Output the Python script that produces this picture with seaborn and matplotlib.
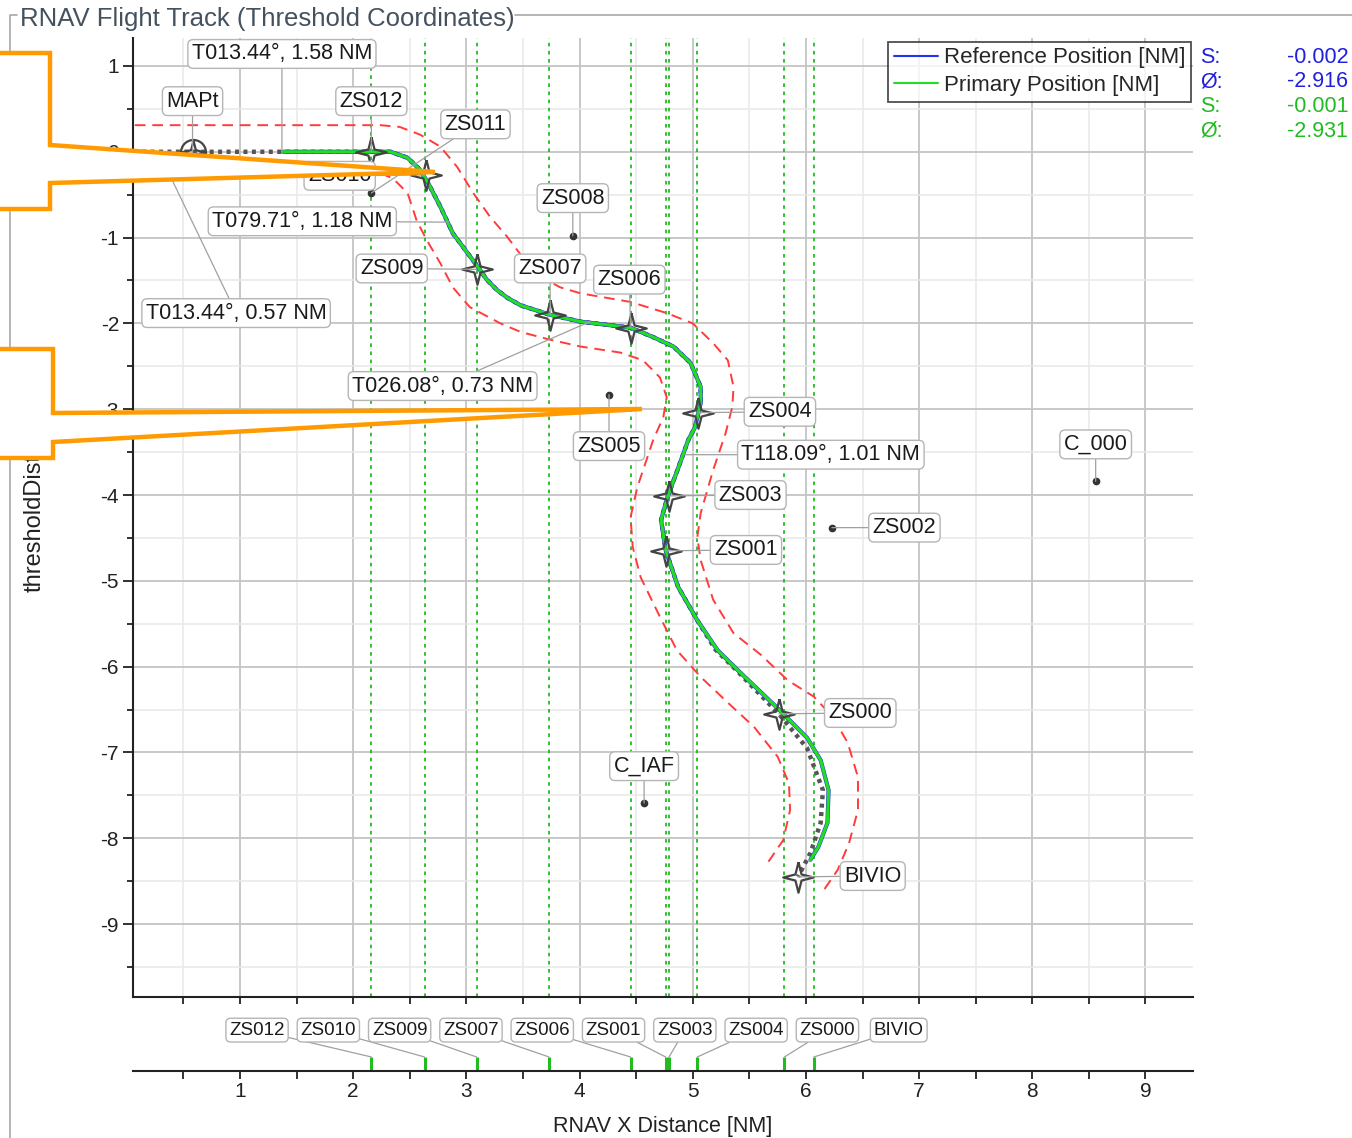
import matplotlib
matplotlib.use("Agg")
import matplotlib.pyplot as plt
from matplotlib.patches import Polygon
from matplotlib.lines import Line2D
from matplotlib.ticker import MultipleLocator
import seaborn as sns

# ---- data (NM, threshold coordinates) ----
track_x = [1.38, 2.16, 2.33, 2.48, 2.59, 2.66, 2.77, 2.88, 3.01, 3.10, 3.18, 3.27, 3.36, 3.48,
           3.74, 4.01, 4.45, 4.65, 4.83, 4.98, 5.07, 5.07, 5.02, 4.96, 4.87, 4.78, 4.72, 4.76,
           4.87, 5.04, 5.22, 5.42, 5.77, 6.01, 6.13, 6.20, 6.19, 6.11, 6.04]
track_y = [0.0, 0.0, 0.0, -0.07, -0.21, -0.36, -0.64, -0.95, -1.18, -1.34, -1.49, -1.61, -1.70, -1.79,
           -1.90, -1.98, -2.05, -2.16, -2.27, -2.46, -2.74, -2.93, -3.21, -3.36, -3.69, -4.01, -4.29, -4.64,
           -5.07, -5.46, -5.81, -6.07, -6.51, -6.83, -7.09, -7.44, -7.82, -8.10, -8.25]

nominal_x = [0.06, 0.58, 2.16, 2.33, 2.48, 2.59, 2.66, 2.77, 2.88, 3.01, 3.10, 3.18, 3.27, 3.36, 3.48,
             3.74, 4.01, 4.45, 4.65, 4.83, 4.98, 5.07, 5.07, 5.02, 4.96, 4.87, 4.78, 4.72, 4.76,
             4.87, 5.04, 5.20, 5.40, 5.76, 6.01, 6.15, 6.13, 6.04, 5.93]
nominal_y = [0.0, 0.0, 0.0, 0.0, -0.07, -0.21, -0.36, -0.64, -0.95, -1.18, -1.34, -1.49, -1.61, -1.70, -1.79,
             -1.90, -1.98, -2.05, -2.16, -2.27, -2.46, -2.74, -2.93, -3.21, -3.36, -3.69, -4.01, -4.29, -4.64,
             -5.07, -5.46, -5.80, -6.06, -6.55, -6.95, -7.44, -7.82, -8.17, -8.45]

outer_x = [0.07, 2.24, 2.41, 2.59, 2.77, 2.92, 3.06, 3.21, 3.36, 3.48, 3.63, 3.83, 4.01, 4.45, 4.77,
           5.00, 5.18, 5.31, 5.36, 5.35, 5.29, 5.18, 5.07, 5.04, 5.07, 5.18, 5.36, 5.60, 5.84, 6.07,
           6.24, 6.37, 6.46, 6.46, 6.38, 6.28, 6.16]
outer_y = [0.31, 0.31, 0.29, 0.20, 0.06, -0.18, -0.48, -0.76, -0.99, -1.20, -1.44, -1.58, -1.65, -1.75, -1.88,
           -2.00, -2.23, -2.43, -2.74, -2.97, -3.28, -3.71, -4.21, -4.49, -4.76, -5.22, -5.61, -5.86, -6.16, -6.35,
           -6.59, -6.89, -7.29, -7.67, -8.06, -8.37, -8.60]

inner_x = [2.24, 2.35, 2.48, 2.56, 2.65, 2.77, 2.88, 3.03, 3.30, 3.48, 3.74, 4.01, 4.36, 4.56, 4.71,
           4.77, 4.74, 4.65, 4.51, 4.45, 4.47, 4.54, 4.71, 4.86, 5.07, 5.31, 5.54, 5.75, 5.85, 5.86,
           5.80, 5.66]
inner_y = [-0.25, -0.31, -0.48, -0.80, -1.03, -1.30, -1.58, -1.81, -2.00, -2.10, -2.19, -2.27, -2.34, -2.43, -2.63,
           -2.86, -3.09, -3.36, -3.91, -4.26, -4.61, -4.96, -5.42, -5.81, -6.12, -6.42, -6.70, -7.05, -7.36, -7.67,
           -8.02, -8.29]

star_names = ["ZS012", "ZS010", "ZS009", "ZS007", "ZS006", "ZS004", "ZS003", "ZS001", "ZS000", "BIVIO"]
star_x = [2.16, 2.64, 3.09, 3.74, 4.45, 5.05, 4.79, 4.76, 5.76, 5.93]
star_y = [0.0, -0.27, -1.37, -1.90, -2.05, -3.04, -4.01, -4.65, -6.55, -8.45]

mapt_x, mapt_y = 0.58, 0.0

dot_names = ["ZS011", "ZS008", "ZS005", "ZS002", "C_000", "C_IAF"]
dot_x = [2.16, 3.94, 4.26, 6.23, 8.56, 4.57]
dot_y = [-0.48, -0.98, -2.83, -4.38, -3.84, -7.59]

leg_texts = ["T013.44°, 1.58 NM", "T079.71°, 1.18 NM", "T013.44°, 0.57 NM",
             "T026.08°, 0.73 NM", "T118.09°, 1.01 NM"]
leg_mid_x = [1.37, 2.84, 0.28, 4.09, 4.93]
leg_mid_y = [0.0, -0.82, 0.0, -1.98, -3.53]

fix_names = ["ZS012", "ZS010", "ZS009", "ZS007", "ZS006", "ZS001", "ZS003", "ZS004", "ZS000", "BIVIO"]
fix_x = [2.16, 2.63, 3.09, 3.73, 4.45, 4.76, 4.79, 5.04, 5.81, 6.07]

stat_keys = ["S:", "Ø:", "S:", "Ø:"]
stat_vals = ["-0.002", "-2.916", "-0.001", "-2.931"]

# ---- label placement (layout only) ----
star_lbl = {"ZS012": (2.16, 0.59), "ZS010": (1.88, -0.28), "ZS009": (2.34, -1.36),
            "ZS007": (3.74, -1.36), "ZS006": (4.44, -1.49), "ZS004": (5.77, -3.03),
            "ZS003": (5.51, -4.0), "ZS001": (5.47, -4.64), "ZS000": (6.48, -6.54),
            "BIVIO": (6.59, -8.44)}
dot_lbl = {"ZS011": (3.08, 0.32), "ZS008": (3.94, -0.54), "ZS005": (4.26, -3.43),
           "ZS002": (6.87, -4.38), "C_000": (8.56, -3.41), "C_IAF": (4.57, -7.16)}
leg_lbl = [(1.37, 1.14), (1.55, -0.81), (0.965, -1.88), (2.79, -2.73), (6.22, -3.53)]

W, H = 1352, 1138
sns.set_theme(style="white")
plt.rcParams["font.family"] = ["Liberation Sans", "DejaVu Sans"]
plt.rcParams["axes.unicode_minus"] = False

fig = plt.figure(figsize=(W / 100, H / 100), dpi=100)
ax = fig.add_axes([133 / W, 1 - 997 / H, 1060 / W, 959 / H])
ax2 = fig.add_axes([133 / W, 1 - 1071 / H, 1060 / W, 61 / H])

xlim = (0.054, 9.42)
ax.set_xlim(*xlim)
ax.set_ylim(-9.85, 1.326)
ax.xaxis.set_major_locator(MultipleLocator(1))
ax.xaxis.set_minor_locator(MultipleLocator(0.5))
ax.yaxis.set_major_locator(MultipleLocator(1))
ax.yaxis.set_minor_locator(MultipleLocator(0.5))
ax.grid(which="major", color="#c4c4c4", lw=1.3, zorder=0)
ax.grid(which="minor", color="#e8e8e8", lw=1.1, zorder=0)
ax.set_axisbelow(True)
for s in ["top", "right"]:
    ax.spines[s].set_visible(False)
for s in ["left", "bottom"]:
    ax.spines[s].set_color("#222222")
    ax.spines[s].set_linewidth(1.5)
ax.tick_params(axis="both", which="both", direction="out", color="#222222", width=1.3)
ax.tick_params(axis="x", which="both", bottom=True, labelbottom=False, length=5)
ax.tick_params(axis="y", which="major", left=True, length=7, labelsize=15, pad=3, labelcolor="#222222")
ax.tick_params(axis="y", which="minor", left=True, length=4)
ax.set_yticks(range(-9, 2))
ax.set_yticklabels([str(v) for v in range(-9, 2)])

# fix lines
for fx in fix_x:
    ax.axvline(fx, color="#22bb22", lw=1.3, ls=(0, (2, 2.5)), zorder=1)

# containment
ax.plot(outer_x, outer_y, color="#ff3b3b", lw=1.4, ls=(0, (5.5, 3.5)), zorder=2)
ax.plot(inner_x, inner_y, color="#ff3b3b", lw=1.4, ls=(0, (5.5, 3.5)), zorder=2)

# nominal path
ax.plot(nominal_x, nominal_y, color="#555555", lw=3.2, ls=(0, (0.9, 1.0)), zorder=3)

# flown tracks
sns.lineplot(x=track_x, y=track_y, sort=False, estimator=None, color="#2233ee", lw=3.0, ax=ax, zorder=4)
sns.lineplot(x=track_x, y=track_y, sort=False, estimator=None, color="#22dd22", lw=2.3, ax=ax, zorder=5)

# waypoint stars
star = [(0, 1), (0.2, 0.2), (1, 0), (0.2, -0.2), (0, -1), (-0.2, -0.2), (-1, 0), (-0.2, 0.2), (0, 1)]
ax.plot(star_x, star_y, ls="none", marker=star, ms=22, mfc="none", mec="#444444", mew=1.6, zorder=6)
ax.plot([mapt_x], [mapt_y], ls="none", marker=star, ms=17, mfc="none", mec="#444444", mew=1.6, zorder=6)
ax.plot([mapt_x], [mapt_y], ls="none", marker="o", ms=18, mfc="none", mec="#444444", mew=1.6, zorder=6)
ax.plot(dot_x, dot_y, ls="none", marker="o", ms=4.5, color="#333333", zorder=6)

box = dict(boxstyle="round,pad=0.18,rounding_size=0.25", fc="white", ec="#b5b5b5", lw=1.0)
lead = dict(arrowstyle="-", color="#a0a0a0", lw=0.9, shrinkA=0, shrinkB=0)


def label(txt, xy, xytext, fs=15.5):
    ax.annotate(txt, xy=xy, xytext=xytext, ha="center", va="center", fontsize=fs,
                color="#1a1a1a", bbox=box, arrowprops=lead, zorder=8)


label("MAPt", (mapt_x, mapt_y), (0.58, 0.59))
for n, x, y in zip(star_names, star_x, star_y):
    label(n, (x, y), star_lbl[n])
for n, x, y in zip(dot_names, dot_x, dot_y):
    label(n, (x, y), dot_lbl[n])
for t, x, y, pos in zip(leg_texts, leg_mid_x, leg_mid_y, leg_lbl):
    label(t, (x, y), pos)

handles = [Line2D([], [], color="#2233ee", lw=1.5), Line2D([], [], color="#22dd22", lw=1.5)]
lg = ax.legend(handles, ["Reference Position [NM]", "Primary Position [NM]"], loc="upper right",
               bbox_to_anchor=(0.998, 0.996), fontsize=16, frameon=True, fancybox=False,
               edgecolor="#222222", borderpad=0.25, labelspacing=0.3, handlelength=2.0,
               handletextpad=0.25, borderaxespad=0)
lg.get_frame().set_linewidth(1.3)
lg.set_zorder(9)

# secondary fix axis
ax2.set_xlim(*xlim)
ax2.set_ylim(0, 1)
ax2.patch.set_alpha(0)
for s in ["top", "right", "left"]:
    ax2.spines[s].set_visible(False)
ax2.spines["bottom"].set_color("#222222")
ax2.spines["bottom"].set_linewidth(1.5)
ax2.xaxis.set_major_locator(MultipleLocator(1))
ax2.xaxis.set_minor_locator(MultipleLocator(0.5))
ax2.set_yticks([])
ax2.tick_params(axis="x", which="both", bottom=True, direction="out", length=6, width=1.3, color="#222222")
ax2.tick_params(axis="x", which="major", labelsize=15, pad=2, labelcolor="#222222")
ax2.set_xticks(range(1, 10))
ax2.set_xticklabels([str(v) for v in range(1, 10)])
ax2.set_xlabel("RNAV X Distance [NM]", fontsize=15.5, color="#222222", labelpad=11)
ax2.vlines(fix_x, 0, 0.23, color="#22bb22", lw=2.2)
box2 = dict(boxstyle="round,pad=0.18,rounding_size=0.25", fc="white", ec="#b5b5b5", lw=1.0)
for i, (n, fx) in enumerate(zip(fix_names, fix_x)):
    ax2.annotate(n, xy=(fx, 0.23), xycoords=("data", "axes fraction"),
                 xytext=(1.15 + i * 0.63, 0.67), textcoords=("data", "axes fraction"),
                 ha="center", va="center", fontsize=13.5, color="#1a1a1a", bbox=box2, arrowprops=lead)

# overlay: group frame, title, stats, callouts
ov = fig.add_axes([0, 0, 1, 1], zorder=20)
ov.set_xlim(0, W)
ov.set_ylim(H, 0)
ov.axis("off")
ov.patch.set_alpha(0)
ov.plot([10, 10, 17], [H, 15, 15], color="#a8a8a8", lw=1.2, zorder=1)
ov.plot([515, W], [15, 15], color="#a8a8a8", lw=1.2, zorder=1)
ov.text(20, 19, "RNAV Flight Track (Threshold Coordinates)", fontsize=18.5, color="#44525f",
        ha="left", va="center", zorder=1)
ov.text(35, 592, "thresholdDistance", rotation=90, ha="center", va="bottom", fontsize=17,
        color="#222222", zorder=1)
stat_cols = ["#2020dd", "#2020dd", "#22bb22", "#22bb22"]
for i, (k, v, c) in enumerate(zip(stat_keys, stat_vals, stat_cols)):
    yy = 57 + i * 24.7
    ov.text(1200, yy, k, color=c, fontsize=15.5, ha="left", va="center", zorder=1)
    ov.text(1287, yy, v, color=c, fontsize=15.5, ha="left", va="center", zorder=1)

callouts = [
    [(0, 53), (50, 53), (50, 145), (435, 172), (50, 183), (50, 209), (0, 209)],
    [(0, 349), (53, 349), (53, 413), (642, 409), (53, 442), (53, 458), (0, 458)],
]
for pts in callouts:
    ov.add_patch(Polygon(pts, closed=True, fc="white", ec="none", zorder=3))
    ov.plot([p[0] for p in pts], [p[1] for p in pts], color="#ff9a00", lw=3.2,
            solid_joinstyle="miter", zorder=4)

fig.savefig("out.png", dpi=100)
